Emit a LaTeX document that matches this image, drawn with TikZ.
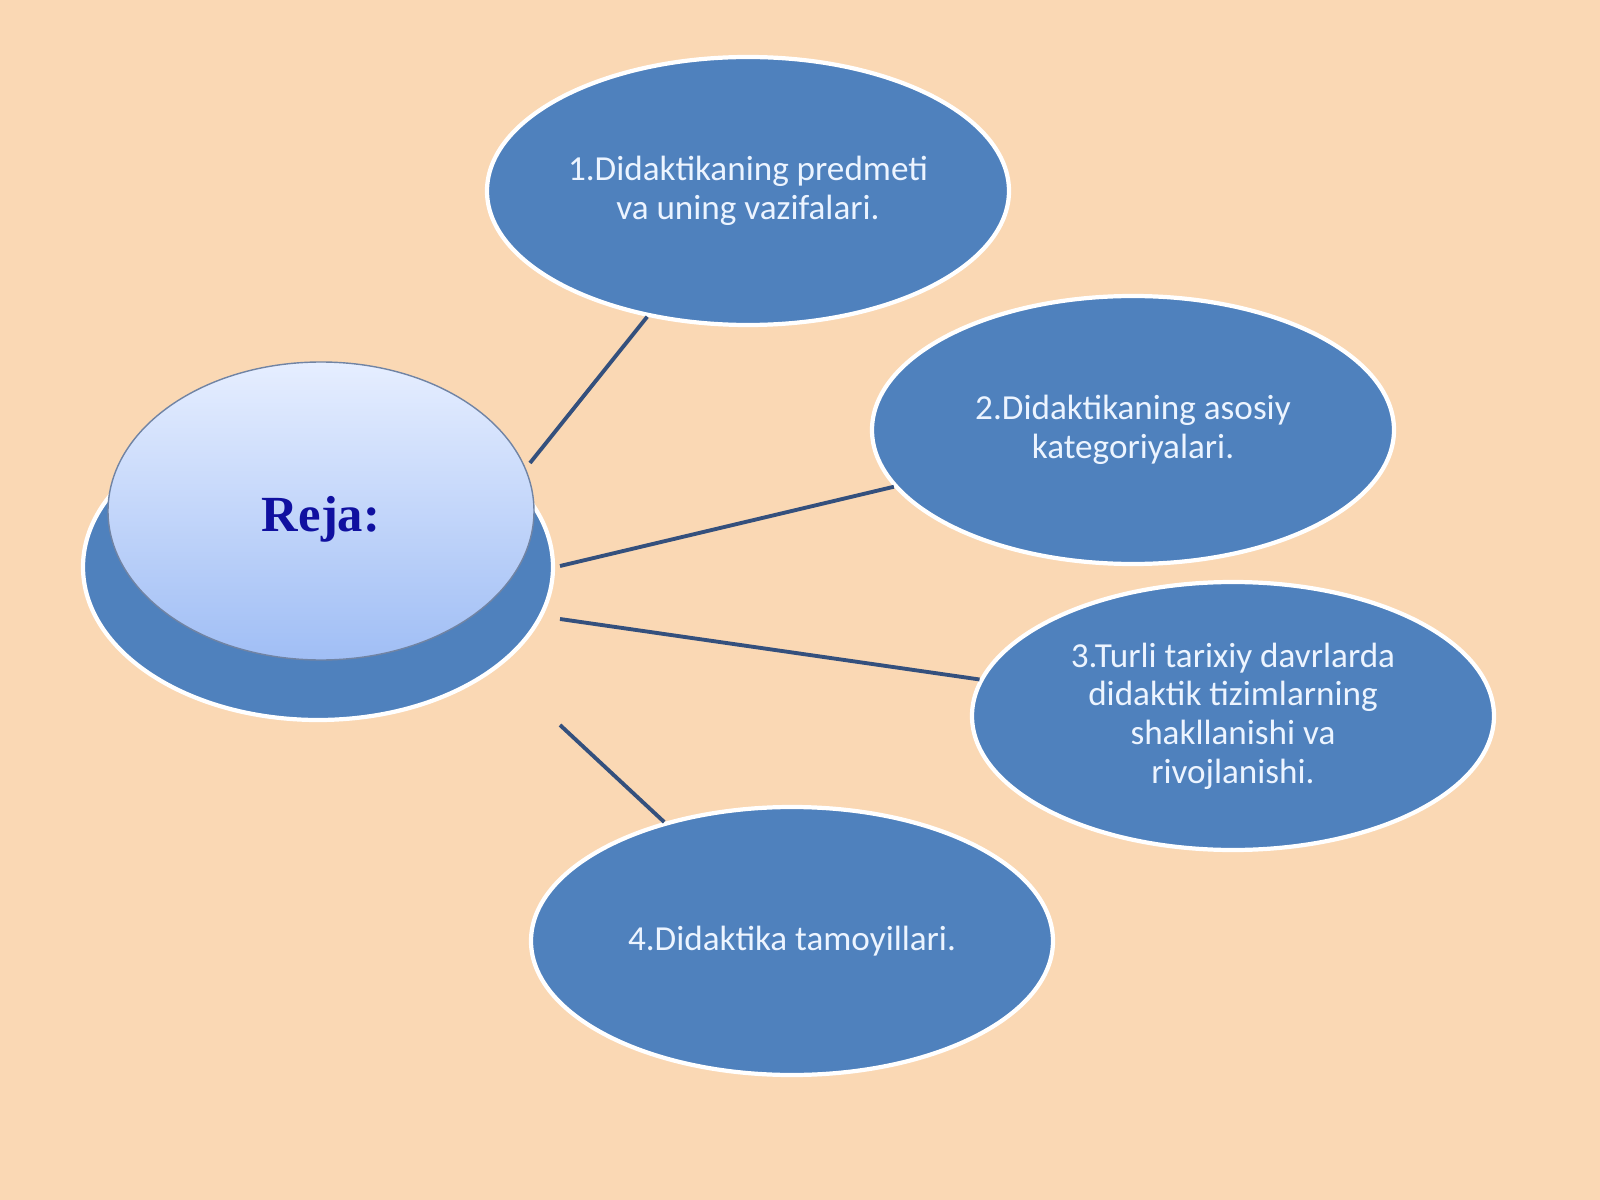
\documentclass[tikz,border=0pt]{standalone}
\usepackage{fontspec}
\setmainfont{Carlito}
\newfontfamily\rejafont{Liberation Serif}
\usetikzlibrary{shapes.geometric}

\definecolor{peach}{RGB}{250,216,180}
\definecolor{topicblue}{RGB}{79,129,189}
\definecolor{linkblue}{RGB}{52,80,125}
\definecolor{topictext}{RGB}{236,244,255}
\definecolor{rejablue}{RGB}{16,16,160}
\definecolor{hubtop}{RGB}{230,238,255}
\definecolor{hubbottom}{RGB}{160,190,245}

\begin{document}
\begin{tikzpicture}[
    x=0.1mm, y=-0.1mm,
    topic/.style={ellipse, fill=topicblue, draw=white, line width=1.2pt, minimum width=5.22cm, minimum height=2.68cm, inner sep=0pt, text=topictext, align=center, font=\fontsize{10}{11}\selectfont},
    hubbase/.style={ellipse, fill=topicblue, draw=white, line width=1.2pt, minimum width=4.70cm, minimum height=3.06cm},
    hubtop/.style={ellipse, top color=hubtop, bottom color=hubbottom, draw=linkblue!70, line width=0.4pt, minimum width=4.26cm, minimum height=2.98cm, text height=11.8pt, text depth=0pt, text=rejablue, font=\rejafont\bfseries\fontsize{14.4}{16}\selectfont},
    link/.style={draw=linkblue, line width=1.1pt}
]

% Background
\fill[peach] (0,0) rectangle (1600,1200);
\useasboundingbox (0,0) rectangle (1600,1200);

% Nodes
\node[hubbase]  (base)  at (318,567)  {};
\node[hubtop]   (reja)  at (321,511)  {Reja:};
\node[topic]    (pred)  at (748,191)  {1.Didaktikaning predmeti\\va uning vazifalari.};
\node[topic]    (kat)   at (1133,430) {2.Didaktikaning asosiy\\kategoriyalari.};
\node[topic]    (tiz)   at (1233,716) {3.Turli tarixiy davrlarda\\didaktik tizimlarning\\shakllanishi va\\rivojlanishi.};
\node[topic]    (tam)   at (792,941)  {4.Didaktika tamoyillari.};

% Line starts near the hub
\coordinate (h1) at (530,463);
\coordinate (h2) at (560,566);
\coordinate (h3) at (560,619);
\coordinate (h4) at (560,725);

% Lines
\draw[link] (h1) -- (pred);
\draw[link] (h2) -- (kat);
\draw[link] (h3) -- (tiz);
\draw[link] (h4) -- (tam);

\end{tikzpicture}
\end{document}
